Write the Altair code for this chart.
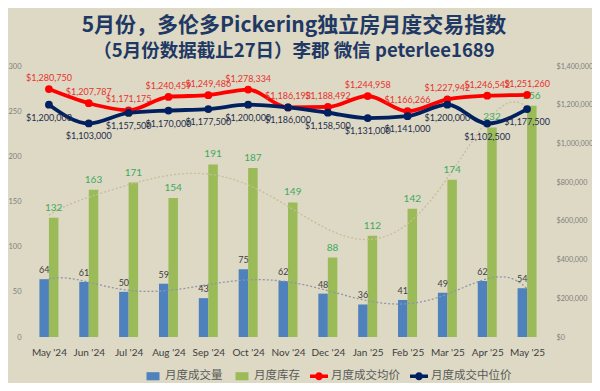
import json
import altair as alt
import pandas as pd

# ---------------- data ----------------
months = ["May '24", "Jun '24", "Jul '24", "Aug '24", "Sep '24", "Oct '24", "Nov '24",
          "Dec '24", "Jan '25", "Feb '25", "Mar '25", "Apr '25", "May '25"]
sales = [64, 61, 50, 59, 43, 75, 62, 48, 36, 41, 49, 62, 54]
inventory = [132, 163, 171, 154, 191, 187, 149, 88, 112, 142, 174, 232, 256]
avg_price = [1280750, 1207787, 1171175, 1240459, 1249486, 1278334, 1186193,
             1188492, 1244958, 1166266, 1227942, 1246542, 1251260]
median_price = [1200000, 1103000, 1157500, 1170000, 1177500, 1200000, 1186000,
                1158500, 1131000, 1141000, 1200000, 1102500, 1177500]
series_names = ["月度成交量", "月度库存", "月度成交均价", "月度成交中位价"]
left_ticks = [0, 50, 100, 150, 200, 250, 300]
right_ticks = [0, 200000, 400000, 600000, 800000, 1000000, 1200000, 1400000]

# ---------------- styles ----------------
BLUE, GREEN, RED, NAVY = "#4F81BD", "#9BBB59", "#FF0000", "#002060"
series_colors = [BLUE, GREEN, RED, NAVY]
RECT = "M-0.72,-0.45H0.72V0.45H-0.72Z"
LINEDOT = ("M-1,-0.19H1V0.19H-1Z M0.45,0A0.45,0.45 0 1,1 -0.45,0"
           "A0.45,0.45 0 1,1 0.45,0Z")
series_shapes = [RECT, RECT, LINEDOT, LINEDOT]
NUMFONT = "Lato"
CJK = "Noto Sans CJK SC"

df = pd.DataFrame({"idx": list(range(len(months))), "month": months,
                   "sales": sales, "inv": inventory,
                   "avg": avg_price, "med": median_price})
legend_df = pd.DataFrame({"series": series_names})

xscale = alt.Scale(domain=[-0.5, len(months) - 0.5], nice=False, zero=False)
x_axis = alt.Axis(values=list(range(len(months))),
                  labelExpr=json.dumps(months) + "[datum.value]",
                  title=None, domain=False, ticks=False, grid=False,
                  labelFont=NUMFONT, labelFontSize=10, labelColor="#404040",
                  labelPadding=10)
X = alt.X("idx:Q", scale=xscale, axis=x_axis, title=None)

lscale = alt.Scale(domain=[0, 300], nice=False, zero=True)
rscale = alt.Scale(domain=[0, 1400000], nice=False, zero=True)
left_axis = alt.Axis(orient="left", values=left_ticks, title=None, domain=False,
                     ticks=False, grid=False, labelFont=NUMFONT, labelFontSize=7.5,
                     labelColor="#808080", labelPadding=3)
right_axis = alt.Axis(orient="right", values=right_ticks, format="$,.0f",
                      title=None, domain=False, ticks=False, grid=False,
                      labelFont=NUMFONT, labelFontSize=7.2,
                      labelColor="#808080", labelPadding=4)


def YL(field):
    return alt.Y(field, scale=lscale, axis=left_axis, title=None)


def YR(field):
    return alt.Y(field, scale=rscale, axis=right_axis, title=None)


base = alt.Chart(df)
BW = 9.5

blue_bars = base.mark_bar(width=BW, xOffset=-BW / 2, color=BLUE).encode(x=X, y=YL("sales:Q"))
green_bars = base.mark_bar(width=BW, xOffset=BW / 2, color=GREEN).encode(x=X, y=YL("inv:Q"))
blue_lbl = base.mark_text(xOffset=-BW / 2, dy=-9, font=NUMFONT, fontSize=9,
                          color="#404040").encode(x=X, y=YL("sales:Q"), text="sales:Q")
green_lbl = base.mark_text(xOffset=BW / 2, dy=-10, font=NUMFONT, fontSize=10,
                           color="#3DAA5C").encode(x=X, y=YL("inv:Q"), text="inv:Q")
inv_trend = base.transform_regression("idx", "inv", method="poly", order=6).mark_line(
    strokeDash=[2, 2], strokeWidth=1.3, color="#C6BE98").encode(x=X, y=YL("inv:Q"))
sales_trend = base.transform_regression("idx", "sales", method="poly", order=6).mark_line(
    strokeDash=[2, 2], strokeWidth=1.3, color="#8E96A6").encode(x=X, y=YL("sales:Q"))

left = alt.layer(blue_bars, green_bars, inv_trend, sales_trend, blue_lbl, green_lbl)

avg_line = base.mark_line(color=RED, strokeWidth=3.8, interpolate="monotone").encode(
    x=X, y=YR("avg:Q"))
avg_pts = base.mark_circle(color=RED, size=60, opacity=1).encode(x=X, y=YR("avg:Q"))
med_line = base.mark_line(color=NAVY, strokeWidth=3.8, interpolate="monotone").encode(
    x=X, y=YR("med:Q"))
med_pts = base.mark_circle(color=NAVY, size=60, opacity=1).encode(x=X, y=YR("med:Q"))
avg_lbl = base.mark_text(dy=-11, font=NUMFONT, fontSize=9, color="#E8322E").encode(
    x=X, y=YR("avg:Q"), text=alt.Text("avg:Q", format="$,.0f"))
med_lbl = base.mark_text(dy=13, font=NUMFONT, fontSize=9, color="#1F2D4D").encode(
    x=X, y=YR("med:Q"), text=alt.Text("med:Q", format="$,.0f"))

right = alt.layer(avg_line, med_line, avg_pts, med_pts, avg_lbl, med_lbl)

leg = alt.Legend(orient="none", legendX=120, legendY=301, direction="horizontal",
                 title=None, labelFont=CJK, labelFontSize=11.5, labelColor="#595959",
                 symbolSize=324, symbolStrokeWidth=0, columnPadding=10,
                 labelOffset=3, symbolOpacity=1)
legend_layer = alt.Chart(legend_df).transform_filter("false").mark_point(
    filled=True, opacity=1).encode(
    color=alt.Color("series:N", scale=alt.Scale(domain=series_names, range=series_colors), legend=leg),
    shape=alt.Shape("series:N", scale=alt.Scale(domain=series_names, range=series_shapes), legend=leg))

chart = alt.layer(left, right, legend_layer).resolve_scale(y="independent").properties(
    width=528, height=271,
    title=alt.TitleParams(
        text="5月份，多伦多Pickering独立房月度交易指数",
        subtitle="（5月份数据截止27日）李郡 微信 peterlee1689",
        font=CJK, fontSize=21, fontWeight="bold", color="#1F3864",
        subtitleFont=CJK, subtitleFontSize=18.5, subtitleFontWeight="bold",
        subtitleColor="#1F3864", subtitlePadding=6,
        anchor="middle", dx=6, offset=2),
    autosize=alt.AutoSizeParams(type="none"),
    padding={"left": 16, "top": 58, "right": 40, "bottom": 46},
    background="#DDD9C4",
).configure_view(stroke=None)

chart.save("out.html", embed_options={"renderer": "svg", "actions": False})
